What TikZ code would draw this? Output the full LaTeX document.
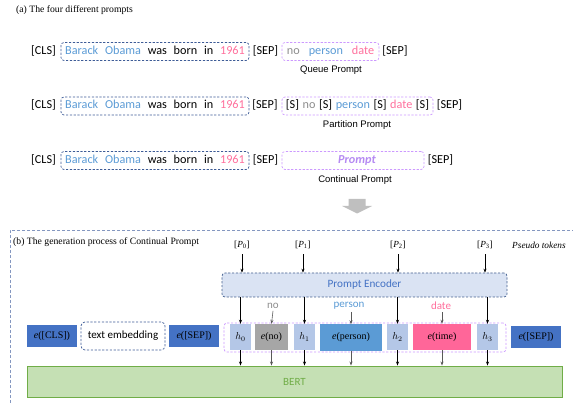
\documentclass[tikz,border=0pt]{standalone}
\usepackage{fontspec}
\setmainfont{Liberation Serif}
\newfontfamily\calib{Carlito}
\newfontfamily\arialf{Liberation Sans}
\usetikzlibrary{arrows.meta}
\definecolor{tblue}{HTML}{5B9BD5}
\definecolor{tpink}{HTML}{FF6F9C}
\definecolor{tgray}{HTML}{8C8C8C}
\definecolor{dkblue}{HTML}{3E5C97}
\definecolor{purp}{HTML}{CC99FF}
\definecolor{ptext}{HTML}{B58AF2}
\definecolor{framec}{HTML}{8497C0}
\definecolor{encfill}{HTML}{DAE3F3}
\definecolor{encborder}{HTML}{44608F}
\definecolor{enctext}{HTML}{4472C4}
\definecolor{eblue}{HTML}{4472C4}
\definecolor{hblue}{HTML}{B4C7E7}
\definecolor{egray}{HTML}{A6A6A6}
\definecolor{eperson}{HTML}{5B9BD5}
\definecolor{etime}{HTML}{FF6699}
\definecolor{bertfill}{HTML}{C5E0B4}
\definecolor{bertline}{HTML}{70AD47}
\definecolor{blockgray}{HTML}{BFBFBF}
\begin{document}
\begin{tikzpicture}[x=1pt,y=-1pt,
  tok/.style={font=\calib\fontsize{12.2}{14}\selectfont, inner sep=0pt, text height=8.5pt, text depth=2.5pt},
  bbox/.style={draw=dkblue, dash pattern=on 2.2pt off 1.6pt, line width=0.7pt, rounded corners=3pt, minimum height=18pt},
  pbox/.style={draw=purp, dash pattern=on 2.2pt off 1.6pt, line width=0.7pt, rounded corners=3pt, minimum height=18pt},
  capt/.style={font=\arialf\fontsize{9.5}{11}\selectfont, inner sep=0pt},
  ttl/.style={font=\fontsize{9.7}{11}\selectfont, inner sep=0pt, anchor=west},
  ptok/.style={font=\fontsize{9.3}{11}\selectfont, inner sep=0pt},
  arr/.style={-{Stealth[length=4pt,width=3pt]}, line width=0.6pt, black},
  garr/.style={-{Stealth[length=4pt,width=3pt]}, line width=0.6pt, black!65},
  emb/.style={fill=eblue, inner sep=0pt, minimum width=50pt, minimum height=22pt, font=\fontsize{10}{12}\selectfont},
  hbox/.style={fill=hblue, inner sep=0pt, minimum width=21pt, minimum height=26pt, font=\fontsize{10}{12}\selectfont},
  ebox/.style={inner sep=0pt, minimum height=26pt, font=\fontsize{10}{12}\selectfont},
  lbl/.style={font=\calib\fontsize{11}{13}\selectfont, inner sep=0pt},
]
\useasboundingbox (0,0) rectangle (573,403);
\clip (0,0) rectangle (573,403);

% ---------- (a) ----------
\node[ttl] (ta) at (16,10) {(a) The four different prompts};

% row 1
\node[tok] (c1) at (43.5,51.5) {[CLS]};
\node[tok,bbox,minimum width=188pt] (s1) at (155,51.5) {\spaceskip=6.8pt\relax{\color{tblue}Barack Obama} was born in {\color{tpink}1961}};
\node[tok] (e1) at (265.5,51.5) {[SEP]};
\node[tok,pbox,minimum width=97pt] (q1) at (330.5,51.5) {\spaceskip=9pt\relax{\color{tgray}no} {\color{tblue}person} {\color{tpink}date}};
\node[tok] (f1) at (395,51.5) {[SEP]};
\node[capt] (l1) at (331,70) {Queue Prompt};

% row 2
\node[tok] (c2) at (43.5,106) {[CLS]};
\node[tok,bbox,minimum width=188pt] (s2) at (155,106) {\spaceskip=6.8pt\relax{\color{tblue}Barack Obama} was born in {\color{tpink}1961}};
\node[tok] (e2) at (265,106) {[SEP]};
\node[tok,pbox,minimum width=151pt] (q2) at (357.5,106) {\spaceskip=3.6pt\relax[S] {\color{tgray}no} [S] {\color{tblue}person} [S] {\color{tpink}date} [S]};
\node[tok] (f2) at (449.5,106) {[SEP]};
\node[capt] (l2) at (357,125) {Partition Prompt};

% row 3
\node[tok] (c3) at (43.5,160.5) {[CLS]};
\node[tok,bbox,minimum width=188pt] (s3) at (155,160.5) {\spaceskip=6.8pt\relax{\color{tblue}Barack Obama} was born in {\color{tpink}1961}};
\node[tok] (e3) at (265.5,160.5) {[SEP]};
\node[tok,pbox,minimum width=142pt] (q3) at (353,160.5) {\hspace*{8pt}\color{ptext}\bfseries\itshape Prompt};
\node[tok] (f3) at (440.5,160.5) {[SEP]};
\node[capt] (l3) at (355,180) {Continual Prompt};

% block arrow
\fill[blockgray] (348.5,199) -- (365.5,199) -- (365.5,206) -- (372,206) -- (357,213.5) -- (342,206) -- (348.5,206) -- cycle;

% ---------- (b) ----------
\draw[framec, line width=0.8pt, dash pattern=on 3pt off 2pt] (590,230) -- (10,230) -- (10,420);
\node[ttl] (tb) at (13,242) {(b) The generation process of Continual Prompt};

\node[ptok] (p0) at (242,245) {[\textit{P}\textsubscript{0}]};
\node[ptok] (p1) at (303,245) {[\textit{P}\textsubscript{1}]};
\node[ptok] (p2) at (398,245) {[\textit{P}\textsubscript{2}]};
\node[ptok] (p3) at (485,245) {[\textit{P}\textsubscript{3}]};
\node[ptok, anchor=west] (pt) at (512,245) {\textit{Pseudo tokens}};

\node[draw=encborder, fill=encfill, dash pattern=on 2.2pt off 1.6pt, line width=0.7pt, rounded corners=3pt,
      minimum width=285pt, minimum height=24pt, inner sep=0pt, font=\calib\fontsize{11.2}{13}\selectfont, text=enctext]
      (enc) at (364.5,285) {Prompt Encoder};

% purple container
\node[pbox, minimum width=282pt, minimum height=29pt, inner sep=0pt] (cont) at (365,337.5) {};

% row of embeddings
\node[emb] (ecls) at (52,336) {\textit{e}([CLS])};
\node[draw=dkblue, dash pattern=on 2.2pt off 1.6pt, line width=0.7pt, rounded corners=4pt, minimum width=84pt, minimum height=28pt,
      inner sep=0pt, font=\calib\fontsize{11}{13}\selectfont] (temb) at (123,336) {text embedding};
\node[emb] (esep) at (194,336) {\textit{e}([SEP])};

\node[hbox] (h0) at (240.5,337) {$h_0$};
\node[ebox, fill=egray, minimum width=33pt] (eno) at (271.5,337) {\textit{e}(no)};
\node[hbox] (h1) at (304.5,337) {$h_1$};
\node[ebox, fill=eperson, minimum width=62pt] (eper) at (351,337.5) {\textit{e}(person)};
\node[hbox] (h2) at (397.5,337) {$h_2$};
\node[ebox, fill=etime, minimum width=58pt] (etim) at (442,337) {\textit{e}(time)};
\node[hbox] (h3) at (487.5,337) {$h_3$};
\node[emb] (esep2) at (536,337) {\textit{e}([SEP])};

\node[lbl, text=tgray] (lno) at (273,306) {no};
\node[lbl, text=tblue] (lper) at (349,306) {person};
\node[lbl, text=tpink] (ldat) at (441,306) {date};

\node[draw=bertline, fill=bertfill, line width=0.9pt, minimum width=535pt, minimum height=31pt, inner sep=0pt,
      font=\calib\fontsize{11}{13}\selectfont, text=bertline] (bert) at (294.5,381.5) {BERT};

% arrows: pseudo tokens -> encoder
\foreach \p in {p0,p1,p2,p3}
  \draw[arr] ([shift={(0,5)}]\p.south) -- (\p |- enc.north);
% encoder -> h
\foreach \h in {h0,h1,h2,h3}
  \draw[arr] (enc.south -| \h) -- (\h.north);
% labels -> embeddings
\draw[garr] ([shift={(0,2)}]lno.south) -- (eno.north);
\draw[garr] ([shift={(0,2)}]lper.south -| eper) -- (eper.north);
\draw[garr] ([shift={(0,2)}]ldat.south -| etim) -- (etim.north);
% row -> BERT
\foreach \b in {h0,h1,h2,h3}
  \draw[arr] (\b.south) -- (\b.south |- bert.north);
\foreach \b in {eno,eper,etim}
  \draw[garr] (\b.south) -- (\b.south |- bert.north);
\end{tikzpicture}
\end{document}
